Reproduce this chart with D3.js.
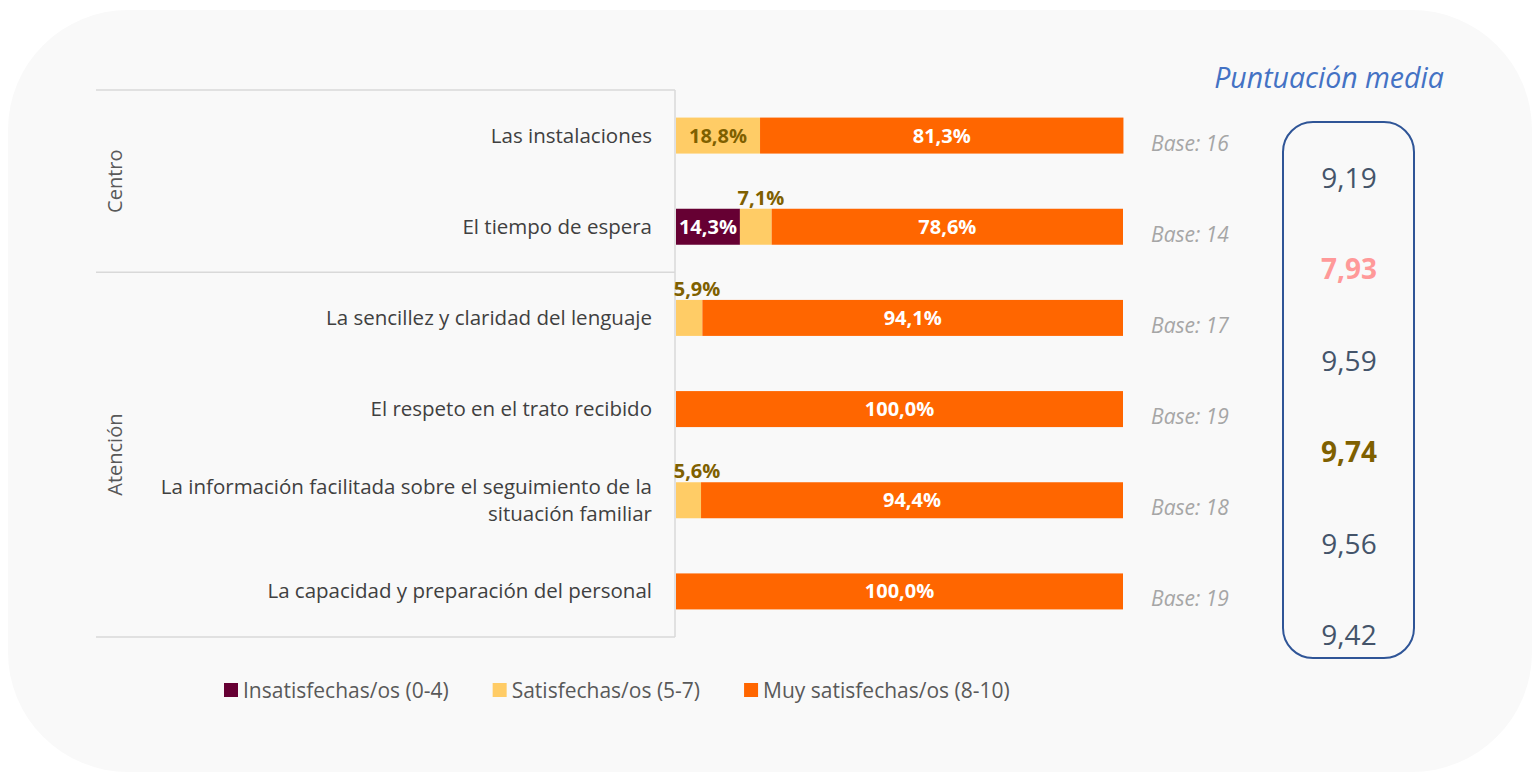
<!DOCTYPE html>
<html>
<head>
<meta charset="utf-8">
<script src="https://cdn.jsdelivr.net/npm/d3@7"></script>
<style>
  body { margin: 0; background: #ffffff; }
  svg { display: block; font-family: "Open Sans", "Noto Sans", sans-serif; }
</style>
</head>
<body>
<div id="chart"></div>
<script>
// ---- data ----
var categories = [
    "Las instalaciones",
    "El tiempo de espera",
    "La sencillez y claridad del lenguaje",
    "El respeto en el trato recibido",
    "La información facilitada sobre el seguimiento de la situación familiar",
    "La capacidad y preparación del personal"
];
var labelLines = [
    ["Las instalaciones"],
    ["El tiempo de espera"],
    ["La sencillez y claridad del lenguaje"],
    ["El respeto en el trato recibido"],
    ["La información facilitada sobre el seguimiento de la", "situación familiar"],
    ["La capacidad y preparación del personal"]
];
var groups = ["Centro", "Centro", "Atención", "Atención", "Atención", "Atención"];
var insatisfechas = [0, 14.3, 0, 0, 0, 0];
var satisfechas = [18.8, 7.1, 5.9, 0, 5.6, 0];
var muySatisfechas = [81.3, 78.6, 94.1, 100, 94.4, 100];
var bases = [16, 14, 17, 19, 18, 19];
var medias = [9.19, 7.93, 9.59, 9.74, 9.56, 9.42];
var seriesNames = ["Insatisfechas/os (0-4)", "Satisfechas/os (5-7)", "Muy satisfechas/os (8-10)"];

var colors = ["#660033", "#ffcc66", "#ff6600"];
var W = 1537, H = 774;

var svg = d3.select("#chart").append("svg")
    .attr("width", W)
    .attr("height", H);

// background card
svg.append("rect")
    .attr("x", 8).attr("y", 10)
    .attr("width", 1524).attr("height", 762)
    .attr("rx", 120).attr("ry", 120)
    .attr("fill", "#f9f9f9");

var x = d3.scaleLinear().domain([0, 100]).range([676, 1123]);
var y = d3.scaleBand().domain(categories).range([90, 637]).padding(0);
var barH = 36;
var fmt = function (v) { return d3.format(".1f")(v).replace(".", ",") + "%"; };
var fmt2 = function (v) { return d3.format(".2f")(v).replace(".", ","); };

// stacked data
var rows = categories.map(function (c, i) {
    return { cat: c, vals: [insatisfechas[i], satisfechas[i], muySatisfechas[i]] };
});
var stack = d3.stack().keys([0, 1, 2]).value(function (d, k) { return d.vals[k]; });
var layers = stack(rows);

// grid lines for the grouped axis
var grid = svg.append("g").attr("stroke", "#d9d9d9").attr("stroke-width", 1.5);
var groupNames = ["Centro", "Atención"];
var groupBounds = groupNames.map(function (g) {
    var cats = categories.filter(function (c, i) { return groups[i] == g; });
    return { name: g, y0: y(cats[0]), y1: y(cats[cats.length - 1]) + y.bandwidth() };
});
var lineYs = [y.range()[0]].concat(groupBounds.map(function (b) { return b.y1; }));
lineYs.forEach(function (ly) {
    grid.append("line").attr("x1", 96).attr("x2", x(0) - 1).attr("y1", ly).attr("y2", ly);
});
grid.append("line")
    .attr("x1", x(0) - 1).attr("x2", x(0) - 1)
    .attr("y1", y.range()[0]).attr("y2", y.range()[1]);

// group labels
groupBounds.forEach(function (b) {
    svg.append("text")
        .attr("transform", "translate(" + 122 + "," + ((b.y0 + b.y1) / 2) + ") rotate(-90)")
        .attr("text-anchor", "middle")
        .attr("font-size", 20)
        .attr("fill", "#595959")
        .text(b.name);
});

// category labels
var catLabel = svg.append("g").selectAll("text")
    .data(categories)
    .enter().append("text")
    .attr("text-anchor", "end")
    .attr("font-size", 20.5)
    .attr("fill", "#404040");
catLabel.each(function (c, i) {
    var lines = labelLines[i];
    var cy = y(c) + y.bandwidth() / 2;
    var lh = 27;
    var t = d3.select(this);
    lines.forEach(function (l, j) {
        t.append("tspan")
            .attr("x", 652)
            .attr("y", cy + 7 + (j - (lines.length - 1) / 2) * lh)
            .text(l);
    });
});

// bars
var layerG = svg.append("g").selectAll("g")
    .data(layers)
    .enter().append("g")
    .attr("fill", function (d, k) { return colors[k]; });

layerG.selectAll("rect")
    .data(function (d) { return d; })
    .enter().append("rect")
    .attr("x", function (d) { return x(d[0]); })
    .attr("y", function (d) { return y(d.data.cat) + y.bandwidth() / 2 - barH / 2; })
    .attr("width", function (d) { return x(d[1]) - x(d[0]); })
    .attr("height", barH);

// bar labels
layers.forEach(function (layer, k) {
    layer.forEach(function (d) {
        var v = d[1] - d[0];
        if (v <= 0) return;
        var x0 = x(d[0]), x1 = x(d[1]);
        var cy = y(d.data.cat) + y.bandwidth() / 2;
        var inside = (x1 - x0) > 55;
        var t = svg.append("text")
            .attr("font-size", 20)
            .attr("font-weight", "bold")
            .attr("text-anchor", "middle")
            .text(fmt(v));
        if (k == 2 || k == 0) {
            t.attr("x", (x0 + x1) / 2).attr("y", cy + 7).attr("fill", "#ffffff");
        } else if (inside) {
            t.attr("x", (x0 + x1) / 2).attr("y", cy + 7).attr("fill", "#7f6000");
        } else {
            t.attr("x", Math.max((x0 + x1) / 2, x0 + 21))
                .attr("y", cy - barH / 2 - 4)
                .attr("fill", "#7f6000");
        }
    });
});

// base labels
svg.append("g").selectAll("text")
    .data(bases)
    .enter().append("text")
    .attr("x", 1190)
    .attr("y", function (d, i) { return y(categories[i]) + y.bandwidth() / 2 + 15; })
    .attr("text-anchor", "middle")
    .attr("font-size", 21)
    .attr("font-style", "italic")
    .attr("fill", "#a6a6a6")
    .text(function (d) { return "Base: " + d; });

// mean score box
svg.append("text")
    .attr("x", 1329).attr("y", 88)
    .attr("text-anchor", "middle")
    .attr("font-size", 28.5)
    .attr("font-style", "italic")
    .attr("fill", "#4472c4")
    .text("Puntuación media");

svg.append("rect")
    .attr("x", 1283).attr("y", 122)
    .attr("width", 131).attr("height", 536)
    .attr("rx", 30).attr("ry", 30)
    .attr("fill", "none")
    .attr("stroke", "#2f5597")
    .attr("stroke-width", 2);

var ym = d3.scalePoint().domain(categories).range([178, 635]);
var minM = d3.min(medias), maxM = d3.max(medias);
svg.append("g").selectAll("text")
    .data(medias)
    .enter().append("text")
    .attr("x", 1349)
    .attr("y", function (d, i) { return ym(categories[i]) + 10; })
    .attr("text-anchor", "middle")
    .attr("font-size", 28)
    .attr("font-weight", function (d) { return (d == minM || d == maxM) ? "bold" : "normal"; })
    .attr("fill", function (d) {
        if (d == minM) return "#ff9999";
        if (d == maxM) return "#7f6000";
        return "#44546a";
    })
    .text(fmt2);

// legend
var legend = svg.append("g");
var lx = 224;
seriesNames.forEach(function (name, k) {
    legend.append("rect")
        .attr("x", lx).attr("y", 683)
        .attr("width", 14).attr("height", 14)
        .attr("fill", colors[k]);
    var t = legend.append("text")
        .attr("x", lx + 19).attr("y", 698)
        .attr("font-size", 21)
        .attr("fill", "#595959")
        .text(name);
    lx = lx + 19 + t.node().getComputedTextLength() + 44;
});
</script>
</body>
</html>
